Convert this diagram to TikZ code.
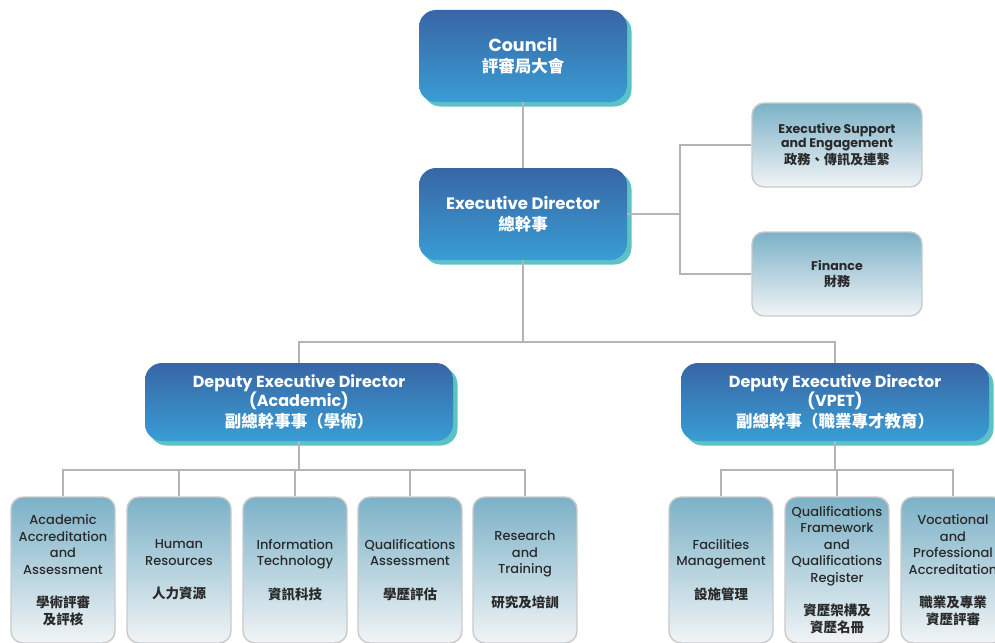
\documentclass[tikz,border=0pt]{standalone}
\usepackage{fontspec}
\setmainfont{Poppins}
\newfontfamily\pmed{Poppins Medium}
\newfontfamily\cjk{Noto Sans CJK TC}
\newcommand\cjb[1]{{\cjk\bfseries\fontsize{13.5}{16.5}\selectfont #1}}
\usetikzlibrary{shadows}
\definecolor{bluetop}{HTML}{3866A5}
\definecolor{bluebot}{HTML}{399DD4}
\definecolor{tealsh}{HTML}{5CC2C6}
\definecolor{lighttop}{HTML}{7BB1C7}
\definecolor{lightbot}{HTML}{F1F4F6}
\definecolor{linegray}{HTML}{B4B4B4}
\definecolor{boxborder}{HTML}{CACACA}
\definecolor{txtdark}{HTML}{2A2A2A}
\begin{document}
\begin{tikzpicture}[x=1pt,y=-1pt,
  bluebox/.style={rounded corners=17pt, top color=bluetop, bottom color=bluebot,
    draw=none, text=white, align=center, inner sep=0pt,
    drop shadow={shadow xshift=4.5pt, shadow yshift=-4.5pt, fill=tealsh, opacity=1}},
  lightbox/.style={rounded corners=12pt, top color=lighttop, bottom color=lightbot,
    draw=boxborder, line width=1.4pt, text=txtdark, align=center, inner sep=0pt},
  smallbox/.style={lightbox, minimum width=104pt, minimum height=146pt,
    font=\pmed\fontsize{13}{16.5}\selectfont},
  sidebox/.style={lightbox, minimum width=170pt, minimum height=84pt,
    font=\bfseries\fontsize{12.6}{14}\selectfont},
  conn/.style={draw=linegray, line width=1.3pt}]
\useasboundingbox (0,0) rectangle (995,642);
\clip (0,0) rectangle (995,642);

% top levels
\node[bluebox, minimum width=208pt, minimum height=92pt,
  font=\bfseries\fontsize{17.5}{21}\selectfont] (council) at (523,56)
  {Council\\{\cjk\bfseries\fontsize{16.5}{21}\selectfont 評審局大會}};
\node[bluebox, minimum width=208pt, minimum height=92pt,
  font=\bfseries\fontsize{16.5}{21}\selectfont] (ed) at (523,214)
  {Executive Director\\{\cjk\bfseries\fontsize{16.5}{21}\selectfont 總幹事}};

\node[sidebox] (es) at (837,145)
  {Executive Support\\and Engagement\\[1pt]{\cjk\bfseries\fontsize{13.2}{15}\selectfont 政務、傳訊及連繫}};
\node[sidebox] (fin) at (837,274)
  {Finance\\[2pt]{\cjk\bfseries\fontsize{13.2}{15}\selectfont 財務}};

\node[bluebox, minimum width=308pt, minimum height=78pt,
  font=\bfseries\fontsize{16}{18}\selectfont] (da) at (299,402)
  {Deputy Executive Director\\(Academic)\\[3pt]{\cjk\bfseries\fontsize{16.5}{19}\selectfont 副總幹事事（學術）}};
\node[bluebox, minimum width=308pt, minimum height=78pt,
  font=\bfseries\fontsize{16}{18}\selectfont] (dv) at (835,402)
  {Deputy Executive Director\\(VPET)\\[3pt]{\cjk\bfseries\fontsize{16.5}{19}\selectfont 副總幹事（職業專才教育）}};

% academic boxes
\node[smallbox] (a1) at (63,570)
  {Academic\\Accreditation\\and\\Assessment\\[17pt]\cjb{學術評審}\\\cjb{及評核}};
\node[smallbox] (a2) at (179,570)
  {Human\\Resources\\[17pt]\cjb{人力資源}};
\node[smallbox] (a3) at (295,570)
  {Information\\Technology\\[17pt]\cjb{資訊科技}};
\node[smallbox] (a4) at (410,570)
  {Qualifications\\Assessment\\[17pt]\cjb{學歷評估}};
\node[smallbox] (a5) at (525,570)
  {Research\\and\\Training\\[17pt]\cjb{研究及培訓}};

% VPET boxes
\node[smallbox] (v1) at (721,570)
  {Facilities\\Management\\[17pt]\cjb{設施管理}};
\node[smallbox] (v2) at (837,570)
  {Qualifications\\Framework\\and\\Qualifications\\Register\\[17pt]\cjb{資歷架構及}\\\cjb{資歷名冊}};
\node[smallbox] (v3) at (953,570)
  {Vocational\\and\\Professional\\Accreditation\\[17pt]\cjb{職業及專業}\\\cjb{資歷評審}};

% connectors
\coordinate (jr) at (680,214);
\coordinate (jd) at (523,342);
\coordinate (ja) at (299,470);
\coordinate (jv) at (835,470);

\draw[conn] (council) -- (ed);
\draw[conn] (ed.east) -- (jr);
\draw[conn] (es.west) -| (jr) |- (fin.west);
\draw[conn] (ed.south) -- (jd);
\draw[conn] (da.north) |- (jd) -| (dv.north);

\draw[conn] (da.south) -- (ja);
\draw[conn] (a1.north) |- (ja) -| (a5.north);
\draw[conn] (a2.north) -- (a2.north |- ja);
\draw[conn] (a3.north) -- (a3.north |- ja);
\draw[conn] (a4.north) -- (a4.north |- ja);

\draw[conn] (dv.south) -- (jv);
\draw[conn] (v1.north) |- (jv) -| (v3.north);
\draw[conn] (v2.north) -- (v2.north |- jv);
\end{tikzpicture}
\end{document}
